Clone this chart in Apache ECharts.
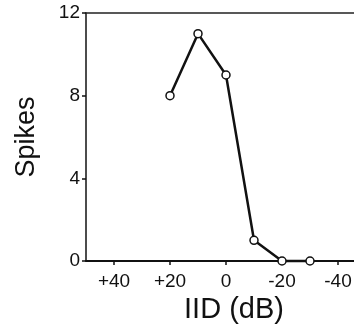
<!DOCTYPE html>
<html>
<head>
<meta charset="utf-8">
<script src="https://cdn.jsdelivr.net/npm/echarts@6/dist/echarts.min.js"></script>
<style>
  html, body { margin: 0; padding: 0; background: #fff; }
  #chart { width: 354px; height: 329px; }
</style>
</head>
<body>
<div id="chart"></div>
<script>
// IID in dB (axis runs from +50 on the left to -50 on the right)
const iid = [20, 10, 0, -10, -20, -30]
const spikes = [8, 11, 9, 1, 0, 0]
const xTicks = [40, 20, 0, -20, -40]
const yTicks = [0, 4, 8, 12]

const font = 'Liberation Sans, Arial, Helvetica, sans-serif'
const ink = '#111'

const chart = echarts.init(document.getElementById('chart'))

chart.setOption({
  backgroundColor: '#fff',
  animation: false,
  grid: { left: 86, top: 13, right: -12, bottom: 68, outerBoundsMode: 'none', containLabel: false },
  xAxis: [
    {
      type: 'value',
      min: -50,
      max: 50,
      inverse: true,
      name: 'IID (dB)',
      nameLocation: 'middle',
      nameGap: 34,
      nameTextStyle: { fontFamily: font, fontSize: 29, color: ink, padding: [0, 0, 0, 16] },
      axisLine: { onZero: false, lineStyle: { color: ink, width: 2 } },
      axisTick: { customValues: xTicks, length: 4, lineStyle: { color: ink, width: 1.5 } },
      axisLabel: {
        customValues: xTicks,
        margin: 11,
        fontFamily: font,
        fontSize: 19,
        color: ink,
        formatter: v => (v > 0 ? '+' + v : String(v))
      },
      splitLine: { show: false }
    },
    {
      // top frame line
      type: 'value',
      position: 'top',
      min: -50,
      max: 50,
      inverse: true,
      axisLine: { show: true, onZero: false, lineStyle: { color: '#222', width: 1.5 } },
      axisTick: { show: false },
      axisLabel: { show: false },
      splitLine: { show: false }
    }
  ],
  yAxis: {
    type: 'value',
    min: 0,
    max: 12,
    name: 'Spikes',
    nameLocation: 'middle',
    nameGap: 46,
    nameTextStyle: { fontFamily: font, fontSize: 27, color: ink },
    axisLine: { show: true, onZero: false, lineStyle: { color: ink, width: 1.5 } },
    axisTick: { show: true, customValues: yTicks, length: 4, lineStyle: { color: ink, width: 1.5 } },
    axisLabel: { customValues: yTicks, margin: 6, fontFamily: font, fontSize: 19, color: ink },
    splitLine: { show: false }
  },
  series: [
    {
      type: 'line',
      data: iid.map((x, i) => [x, spikes[i]]),
      symbol: 'circle',
      symbolSize: 8,
      clip: false,
      lineStyle: { color: ink, width: 2.5 },
      itemStyle: { color: '#fff', borderColor: ink, borderWidth: 1.5 }
    }
  ]
})
</script>
</body>
</html>
